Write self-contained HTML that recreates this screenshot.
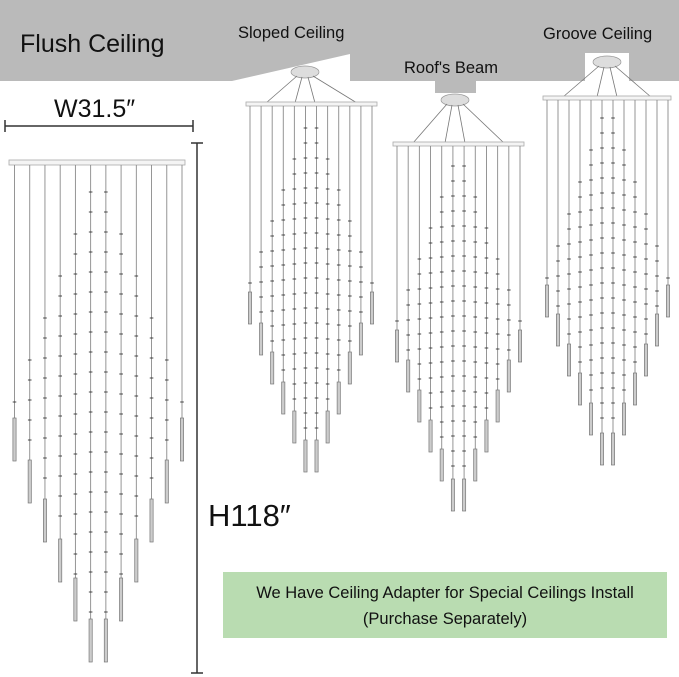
<!DOCTYPE html>
<html><head><meta charset="utf-8"><style>
html,body{margin:0;padding:0;background:#fff;}
svg{display:block}
text{font-family:"Liberation Sans","DejaVu Sans",sans-serif;fill:#111}
</style></head><body>
<svg id="s" width="679" height="677" viewBox="0 0 679 677" xmlns="http://www.w3.org/2000/svg">
<rect width="679" height="677" fill="#fff"/>
<polygon points="0,0 679,0 679,81 629,81 629,53 585,53 585,81 476,81 476,93 435,93 435,81 350,81 350,54 232,81 0,81" fill="#bababa"/>
<text x="20" y="52" font-size="25">Flush Ceiling</text>
<text x="238" y="38" font-size="16.5">Sloped Ceiling</text>
<text x="404" y="73" font-size="16.5">Roof's Beam</text>
<text x="543" y="39" font-size="16.5">Groove Ceiling</text>
<text x="54" y="117" font-size="25">W31.5″</text>
<line x1="5" y1="126" x2="193" y2="126" stroke="#333" stroke-width="1.5"/>
<line x1="5" y1="120" x2="5" y2="132" stroke="#333" stroke-width="1.5"/>
<line x1="193" y1="120" x2="193" y2="132" stroke="#333" stroke-width="1.5"/>
<line x1="197" y1="143" x2="197" y2="673" stroke="#333" stroke-width="1.5"/>
<line x1="191" y1="143" x2="203" y2="143" stroke="#333" stroke-width="1.5"/>
<line x1="191" y1="673" x2="203" y2="673" stroke="#333" stroke-width="1.5"/>
<text x="208" y="526" font-size="31">H118″</text>
<rect x="223" y="572" width="444" height="66" fill="#b9dcb1"/>
<text x="445" y="598" font-size="16.5" text-anchor="middle">We Have Ceiling Adapter for Special Ceilings Install</text>
<text x="445" y="624" font-size="16.5" text-anchor="middle">(Purchase Separately)</text>
<g id="g"></g>
</svg>
<script>
var g=document.getElementById('g'),h='';
function L(x1,y1,x2,y2,c,w){h+='<line x1="'+x1+'" y1="'+y1+'" x2="'+x2+'" y2="'+y2+'" stroke="'+c+'" stroke-width="'+w+'"/>';}
function chand(o){
  var n=12,sp=(o.x2-o.x1)/(n-1);
  if(o.cx){
    h+='<ellipse cx="'+o.cx+'" cy="'+o.cy+'" rx="14" ry="6" fill="#ddd" stroke="#999" stroke-width="0.7"/>';
    L(o.cx-8,o.cy+4,o.bx1+20,o.by,'#777',0.8);L(o.cx-3,o.cy+5,o.cx-10,o.by,'#777',0.8);
    L(o.cx+3,o.cy+5,o.cx+10,o.by,'#777',0.8);L(o.cx+8,o.cy+4,o.bx2-20,o.by,'#777',0.8);
  }
  h+='<rect x="'+o.bx1+'" y="'+(o.by-1)+'" width="'+(o.bx2-o.bx1)+'" height="'+o.bh+'" fill="#f4f4f4" stroke="#aaa" stroke-width="0.8"/>';
  for(var i=0;i<n;i++){
    var k=Math.min(i,n-1-i),x=o.x1+i*sp,top=o.cyl[k];
    L(x,o.by+o.bh-1,x,top,'#8a8a8a',0.9);
    h+='<rect x="'+(x-1.6)+'" y="'+top+'" width="3.2" height="'+o.cl+'" fill="#ccc" stroke="#777" stroke-width="0.7"/>';
    var start=o.s0+(5-k)*o.ds;
    for(var y=start;y<top-3;y+=o.tstep){L(x-1.8,y,x+1.8,y,'#333',0.9);}
  }
}
chand({x1:14.5,x2:182,bx1:9,bx2:185,by:161,bh:5,cyl:[418,460,499,539,578,619],cl:43,s0:192,ds:42,tstep:20});
chand({x1:250,x2:372,bx1:246,bx2:377,by:103,bh:4,cx:305,cy:72,cyl:[292,323,352,382,411,440],cl:32,s0:128,ds:31,tstep:15});
chand({x1:397,x2:520,bx1:393,bx2:524,by:143,bh:4,cx:455,cy:100,cyl:[330,360,390,420,449,479],cl:32,s0:166,ds:31,tstep:15});
chand({x1:547,x2:668,bx1:543,bx2:671,by:97,bh:4,cx:607,cy:62,cyl:[285,314,344,373,403,433],cl:32,s0:118,ds:32,tstep:15});
g.innerHTML=h;
</script>
</body></html>
